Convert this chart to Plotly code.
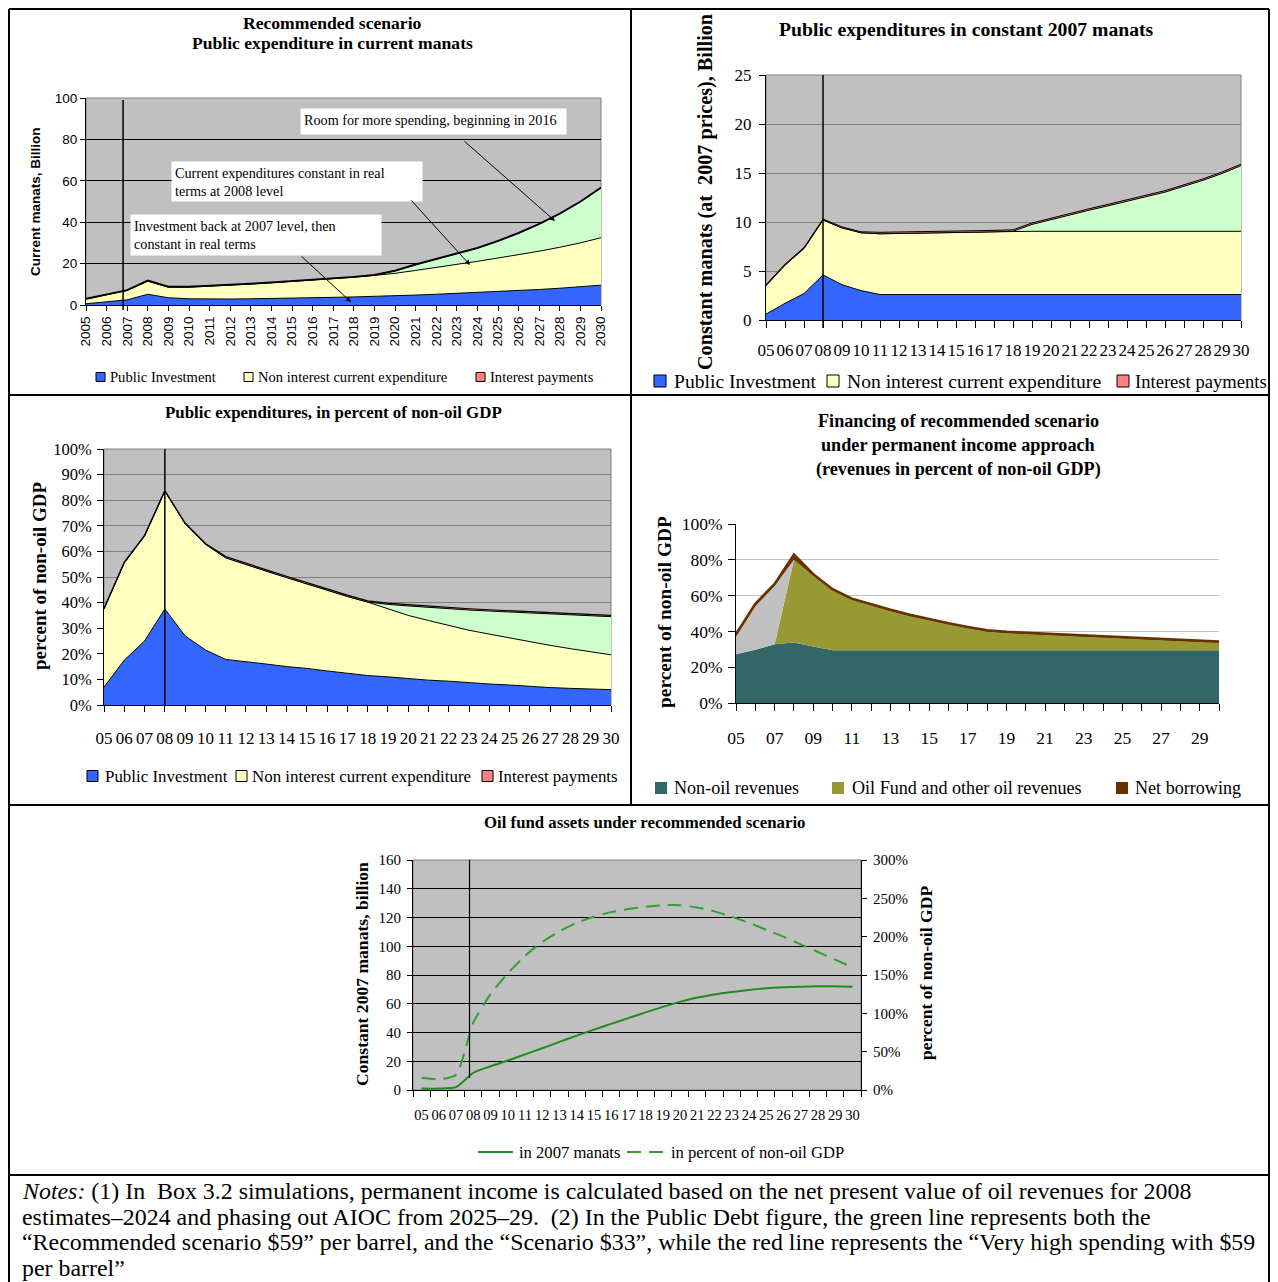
import plotly.graph_objects as go

W, H = 1278, 1282
OFF = 8  # the page body adds an 8px margin; positions below are given in reference pixels
SERIF = "Liberation Serif, Times New Roman, serif"
SANS = "Liberation Sans, Arial, sans-serif"


def fx(p):
    return (p - OFF) / W


def fy(p):
    return 1 - (p - OFF) / H


# ---------------- data ----------------
years = list(range(2005, 2031))
year_labels = [str(y) for y in years]
short_labels = [f"{y % 100:02d}" for y in years]
idx = list(range(26))

# Panel 1: current manats, billion (stacked layers)
p1_invest = [0.6, 1.5, 2.5, 5.2, 3.5, 3.0, 2.8, 2.9, 3.0, 3.1, 3.3, 3.5, 3.7, 3.9, 4.1, 4.4,
             4.8, 5.2, 5.6, 6.0, 6.5, 7.0, 7.5, 8.1, 8.8, 9.6]
p1_nonint = [2.2, 3.5, 4.5, 6.3, 5.1, 5.6, 6.2, 6.6, 7.1, 7.6, 8.0, 8.5, 9.0, 9.5, 10.2, 10.9,
             11.9, 12.9, 14.0, 15.1, 16.2, 17.3, 18.5, 19.8, 21.2, 22.9]
p1_room = [0, 0, 0, 0, 0, 0, 0, 0, 0, 0, 0, 0, 0, 0, 0, 1.0,
           2.6, 3.8, 5.0, 6.2, 8.0, 10.2, 12.9, 16.0, 19.7, 23.9]
p1_interest = [0.3, 0.3, 0.3, 0.4, 0.3, 0.3, 0.3, 0.3, 0.3, 0.3, 0.3, 0.3, 0.3, 0.3, 0.3, 0.4,
               0.4, 0.4, 0.4, 0.4, 0.4, 0.4, 0.4, 0.4, 0.4, 0.4]

# Panel 2: constant 2007 manats, billion
p2_invest = [0.6, 1.7, 2.7, 4.6, 3.6, 3.0, 2.6, 2.6, 2.6, 2.6, 2.6, 2.6, 2.6, 2.6, 2.6, 2.6,
             2.6, 2.6, 2.6, 2.6, 2.6, 2.6, 2.6, 2.6, 2.6, 2.6]
p2_nonint = [2.9, 3.9, 4.6, 5.6, 5.8, 5.9, 6.2, 6.22, 6.25, 6.28, 6.32, 6.36, 6.4, 6.45, 6.45, 6.45,
             6.45, 6.45, 6.45, 6.45, 6.45, 6.45, 6.45, 6.45, 6.45, 6.45]
p2_room = [0, 0, 0, 0, 0, 0, 0, 0, 0, 0, 0, 0, 0, 0, 0.7, 1.2,
           1.7, 2.15, 2.6, 3.05, 3.5, 4.0, 4.6, 5.2, 5.9, 6.7]
p2_interest = [0.1, 0.1, 0.1, 0.1, 0.1, 0.1, 0.15, 0.15, 0.15, 0.15, 0.15, 0.15, 0.15, 0.15, 0.15, 0.15,
               0.15, 0.15, 0.15, 0.15, 0.15, 0.15, 0.15, 0.15, 0.15, 0.15]

# Panel 3: percent of non-oil GDP
p3_invest = [7, 17.5, 25, 37.5, 27, 21.5, 17.8, 17, 16, 15, 14.3, 13.3, 12.5, 11.5, 11, 10.3,
             9.7, 9.3, 8.7, 8.2, 7.8, 7.2, 6.8, 6.5, 6.2, 6.0]
p3_nonint = [30.5, 38.0, 41.0, 46.0, 43.8, 41.3, 39.7, 37.8, 36.3, 34.8, 33.0, 31.5, 29.9, 28.7, 26.5, 24.7,
             23.3, 21.7, 20.5, 19.5, 18.4, 17.5, 16.5, 15.5, 14.6, 13.6]
p3_room = [0, 0, 0, 0, 0, 0, 0, 0, 0, 0, 0, 0, 0, 0, 1.8, 3.7,
           5.1, 6.6, 7.9, 9.0, 10.1, 11.3, 12.3, 13.3, 14.2, 14.9]
p3_interest = [0.3, 0.3, 0.3, 0.3, 0.3, 0.3, 0.5, 0.5, 0.5, 0.5, 0.5, 0.5, 0.5, 0.5, 0.5, 0.5,
               0.5, 0.5, 0.5, 0.5, 0.5, 0.5, 0.5, 0.5, 0.5, 0.5]

# Panel 4: financing, percent of non-oil GDP
p4_nonoil = [27.3, 29.7, 32.8, 33.8, 31.5, 29.5, 29.5, 29.5, 29.5, 29.5, 29.5, 29.5, 29.5, 29.5, 29.5, 29.5,
             29.5, 29.5, 29.5, 29.5, 29.5, 29.5, 29.5, 29.5, 29.5, 29.5]
p4_oil = [0, 0, 0, 46.2, 39.5, 33.3, 28.0, 24.8, 21.8, 19.0, 16.5, 14.3, 12.2, 10.3, 9.5, 9.0,
          8.4, 7.8, 7.3, 6.8, 6.3, 5.8, 5.4, 5.0, 4.5, 4.0]
p4_other = [9.7, 24.3, 32.7, 0, 0, 0, 0, 0, 0, 0, 0, 0, 0, 0, 0, 0,
            0, 0, 0, 0, 0, 0, 0, 0, 0, 0]
p4_borrow = [1.5, 1.5, 1.0, 3.0, 1.0, 0.8, 0.8, 0.8, 0.8, 0.8, 0.8, 0.8, 0.8, 0.8, 0.8, 0.8,
             0.8, 0.8, 0.8, 0.8, 0.8, 0.8, 0.8, 0.8, 0.8, 0.8]

# Panel 5: oil fund assets
p5_manats = [1, 1, 2, 12, 16.5, 20.5, 24.8, 29, 33.5, 37.8, 42, 46, 50, 54, 57.8, 61.3,
             64.3, 66.5, 68.2, 69.6, 70.7, 71.4, 71.9, 72.2, 72.2, 71.8]
p5_pct = [16, 14, 20, 88, 125, 152, 175, 193, 207, 218, 226, 232, 236, 239, 241, 241,
          238, 233, 226, 218, 209, 200, 190, 180, 170, 160]

# tick values
p1_yticks = [0, 20, 40, 60, 80, 100]
p2_yticks = [0, 5, 10, 15, 20, 25]
p3_yticks = [0, 10, 20, 30, 40, 50, 60, 70, 80, 90, 100]
p4_yticks = [0, 20, 40, 60, 80, 100]
p5_yticks = [0, 20, 40, 60, 80, 100, 120, 140, 160]
p5_y2ticks = [0, 50, 100, 150, 200, 250, 300]

# ---------------- colours ----------------
BLUE, YELLOW, GREEN, RED = "#3366FF", "#FFFFC0", "#CCFFCC", "#FF8080"
TEAL, OLIVE, LGRAY, BROWN = "#336666", "#999933", "#C0C0C0", "#663300"
PLOTGRAY = "#C0C0C0"

fig = go.Figure()


def stacked(x, series, xa, ya, group):
    for name, vals, col, lcol, w in series:
        fig.add_trace(go.Scatter(
            x=x, y=vals, name=name, stackgroup=group, mode="lines",
            line=dict(color=lcol, width=w, shape="linear"), fillcolor=col,
            xaxis=xa, yaxis=ya, showlegend=False, hoverinfo="skip"))


stacked(years, [
    ("Public Investment", p1_invest, BLUE, "black", 1),
    ("Non interest current expenditure", p1_nonint, YELLOW, "black", 1),
    ("Room for more spending", p1_room, GREEN, "black", 1),
    ("Interest payments", p1_interest, RED, "black", 1.5),
], "x", "y", "g1")

stacked(idx, [
    ("Public Investment", p2_invest, BLUE, "black", 1),
    ("Non interest current expenditure", p2_nonint, YELLOW, "black", 1),
    ("Room for more spending", p2_room, GREEN, "black", 1),
    ("Interest payments", p2_interest, RED, "black", 1),
], "x2", "y2", "g2")

stacked(idx, [
    ("Public Investment", p3_invest, BLUE, "black", 1),
    ("Non interest current expenditure", p3_nonint, YELLOW, "black", 1),
    ("Room for more spending", p3_room, GREEN, "black", 1),
    ("Interest payments", p3_interest, RED, "black", 1.2),
], "x3", "y3", "g3")

stacked(idx, [
    ("Non-oil revenues", p4_nonoil, TEAL, TEAL, 0),
    ("Oil Fund and other oil revenues", p4_oil, OLIVE, OLIVE, 0),
    ("Other", p4_other, LGRAY, LGRAY, 0),
    ("Net borrowing", p4_borrow, BROWN, BROWN, 2.5),
], "x4", "y4", "g4")

fig.add_trace(go.Scatter(x=idx, y=p5_manats, name="in 2007 manats", mode="lines",
                         line=dict(color="#1E8C1E", width=2, shape="spline", smoothing=0.6),
                         xaxis="x5", yaxis="y5", showlegend=False, hoverinfo="skip"))
fig.add_trace(go.Scatter(x=idx, y=p5_pct, name="in percent of non-oil GDP", mode="lines",
                         line=dict(color="#33A033", width=2, dash="14px,8px", shape="spline", smoothing=0.6),
                         xaxis="x5", yaxis="y6", showlegend=False, hoverinfo="skip"))

shapes = []
annotations = []

# plot backgrounds (gray) with thin border
for xa, ya in [("x", "y"), ("x2", "y2"), ("x3", "y3"), ("x5", "y5")]:
    shapes.append(dict(type="rect", xref=f"{xa} domain", yref=f"{ya} domain",
                       x0=0, x1=1, y0=0, y1=1, fillcolor=PLOTGRAY,
                       line=dict(color="#808080", width=1), layer="below"))

# vertical marker lines
shapes.append(dict(type="line", xref="x", yref="paper", x0=2006.8, x1=2006.8,
                   y0=fy(310), y1=fy(100), line=dict(color="black", width=1.5)))
shapes.append(dict(type="line", xref="x2", yref="paper", x0=3, x1=3,
                   y0=fy(328), y1=fy(75), line=dict(color="black", width=1.5)))
shapes.append(dict(type="line", xref="x3", yref="paper", x0=3, x1=3,
                   y0=fy(705), y1=fy(449), line=dict(color="black", width=1.5)))
shapes.append(dict(type="line", xref="x5", yref="paper", x0=2.78, x1=2.78,
                   y0=fy(1078), y1=fy(860), line=dict(color="black", width=1.2)))


# frame lines
RIGHT = 1269


def hline(y, x0=9, x1=RIGHT):
    shapes.append(dict(type="line", xref="paper", yref="paper", x0=fx(x0), x1=fx(x1),
                       y0=fy(y), y1=fy(y), line=dict(color="black", width=2)))


def vline(x, y0, y1):
    shapes.append(dict(type="line", xref="paper", yref="paper", x0=fx(x), x1=fx(x),
                       y0=fy(y0), y1=fy(y1), line=dict(color="black", width=2)))


hline(9)
hline(395)
hline(805)
hline(1175)
vline(9, 9, 1290)
vline(RIGHT, 9, 1290)
vline(631, 9, 805)


def text(x, y, s, size, family=SERIF, bold=False, anchor="center", angle=0, color="black"):
    annotations.append(dict(xref="paper", yref="paper", x=fx(x), y=fy(y),
                            text=f"<b>{s}</b>" if bold else s, showarrow=False,
                            xanchor=anchor, yanchor="middle", textangle=angle,
                            font=dict(family=family, size=size, color=color)))


def legend_sq(x, y, size, color, label, xt, fsize, border=True):
    shapes.append(dict(type="rect", xref="paper", yref="paper",
                       x0=fx(x), x1=fx(x + size), y0=fy(y + size / 2), y1=fy(y - size / 2),
                       fillcolor=color,
                       line=dict(color="black", width=1 if border else 0)))
    text(xt, y, label, fsize, anchor="left")


# ---------- Panel 1 texts ----------
text(332, 23, "Recommended scenario", 17.6, bold=True)
text(332, 43, "Public expenditure in current manats", 17.6, bold=True)
text(36, 202, "Current manats, Billion", 13.5, family=SANS, bold=True, angle=-90)
legend_sq(96, 377, 9, BLUE, "Public Investment", 108, 14.6)
legend_sq(244, 377, 9, YELLOW, "Non interest current expenditure", 256, 14.6)
legend_sq(476, 377, 9, RED, "Interest payments", 488, 14.6)

boxes = [
    (300, 108, 265, 25, "Room for more spending, beginning in 2016"),
    (171, 161, 250, 39, "Current expenditures constant in real<br>terms at 2008 level"),
    (130, 214, 250, 40, "Investment back at 2007 level, then<br>constant in real terms"),
]
for bx, by, bw, bh, s in boxes:
    annotations.append(dict(xref="paper", yref="paper", x=fx(bx), y=fy(by), text=s,
                            showarrow=False, xanchor="left", yanchor="top", align="left",
                            valign="top", width=bw - 6, height=bh - 6, borderpad=3,
                            bgcolor="white", font=dict(family=SERIF, size=14.2, color="black")))

arrows = [((463, 140), (555, 221)), ((410, 199), (470, 265)), ((300, 255), (351, 302))]
for (tx, ty), (hx, hy) in arrows:
    annotations.append(dict(xref="paper", yref="paper", x=fx(hx), y=fy(hy), ax=tx - hx, ay=ty - hy,
                            text="", showarrow=True, arrowhead=2, arrowsize=1, arrowwidth=1,
                            arrowcolor="black", standoff=0))

# ---------- Panel 2 texts ----------
text(966, 29, "Public expenditures in constant 2007 manats", 19.7, bold=True)
text(705, 192, "Constant manats (at  2007 prices), Billion", 20.2, bold=True, angle=-90)
legend_sq(654, 381, 12, BLUE, "Public Investment", 672, 19.6)
legend_sq(827, 381, 12, YELLOW, "Non interest current expenditure", 845, 19.6)
legend_sq(1117, 381, 12, RED, "Interest payments", 1133, 18.6)

# ---------- Panel 3 texts ----------
text(333, 412, "Public expenditures, in percent of non-oil GDP", 16.9, bold=True)
text(40, 576, "percent of non-oil GDP", 19, bold=True, angle=-90)
legend_sq(87, 776, 11, BLUE, "Public Investment", 103, 16.9)
legend_sq(236, 776, 11, YELLOW, "Non interest current expenditure", 250, 16.9)
legend_sq(482, 776, 11, RED, "Interest payments", 496, 16.9)

# ---------- Panel 4 texts ----------
text(958, 421, "Financing of recommended scenario", 18.2, bold=True)
text(958, 445, "under permanent income approach", 18.2, bold=True)
text(958, 469, "(revenues in percent of non-oil GDP)", 18.2, bold=True)
text(664, 612, "percent of non-oil GDP", 19.4, bold=True, angle=-90)
legend_sq(655, 788, 12, TEAL, "Non-oil revenues", 672, 18.1, border=False)
legend_sq(832, 788, 12, OLIVE, "Oil Fund and other oil revenues", 850, 18.1, border=False)
legend_sq(1116, 788, 12, BROWN, "Net borrowing", 1133, 18.1, border=False)

# ---------- Panel 5 texts ----------
text(645, 822, "Oil fund assets under recommended scenario", 16.8, bold=True)
text(362, 974, "Constant 2007 manats, billion", 17.6, bold=True, angle=-90)
text(926, 973, "percent of non-oil GDP", 17.6, bold=True, angle=-90)
shapes.append(dict(type="line", xref="paper", yref="paper", x0=fx(478), x1=fx(513),
                   y0=fy(1152), y1=fy(1152), line=dict(color="#1E8C1E", width=2)))
text(517, 1152, "in 2007 manats", 16.6, anchor="left")
shapes.append(dict(type="line", xref="paper", yref="paper", x0=fx(627), x1=fx(665),
                   y0=fy(1152), y1=fy(1152), line=dict(color="#33A033", width=2, dash="14px,8px")))
text(669, 1152, "in percent of non-oil GDP", 16.6, anchor="left")

# ---------- Notes ----------
notes = [
    "<i>Notes:</i> (1) In  Box 3.2 simulations, permanent income is calculated based on the net present value of oil revenues for 2008",
    "estimates–2024 and phasing out AIOC from 2025–29.  (2) In the Public Debt figure, the green line represents both the",
    "“Recommended scenario $59” per barrel, and the “Scenario $33”, while the red line represents the “Very high spending with $59",
    "per barrel”",
]
for i, line in enumerate(notes):
    text(20, 1191 + 25.5 * i, line, 23.9, anchor="left")


# ---------------- axes ----------------
def axcommon(**kw):
    d = dict(showgrid=False, zeroline=False, showline=True, linecolor="black", linewidth=1,
             ticks="outside", tickcolor="black", fixedrange=True, automargin=False)
    d.update(kw)
    return d


def pct(vals):
    return [f"{v}%" for v in vals]


tf_sans = dict(family=SANS, size=13.5, color="black")

layout = dict(
    width=W, height=H, autosize=False,
    margin=dict(l=0, r=0, t=0, b=0, pad=0, autoexpand=False),
    paper_bgcolor="white", plot_bgcolor="rgba(0,0,0,0)", showlegend=False,
    shapes=shapes, annotations=annotations,
    # Panel 1
    xaxis=axcommon(domain=[fx(86), fx(601)], anchor="y", range=[2005, 2030],
                   tickmode="array", tickvals=years, ticktext=year_labels, tickangle=-90,
                   ticklen=5, tickfont=tf_sans),
    yaxis=axcommon(domain=[fy(305), fy(98)], anchor="x", range=[0, 100],
                   tickmode="array", tickvals=p1_yticks, ticktext=[str(v) for v in p1_yticks],
                   ticklen=5, showgrid=True, gridcolor="black", gridwidth=1, tickfont=tf_sans),
    # Panel 2
    xaxis2=axcommon(domain=[fx(766), fx(1241)], anchor="y2", range=[0, 25],
                    tickmode="array", tickvals=idx, ticktext=short_labels, ticklen=7, tickangle=0,
                    ticklabelstandoff=8, tickfont=dict(family=SERIF, size=17, color="black")),
    yaxis2=axcommon(domain=[fy(320), fy(75)], anchor="x2", range=[0, 25],
                    tickmode="array", tickvals=p2_yticks, ticktext=[str(v) for v in p2_yticks],
                    ticklen=6, showgrid=True, gridcolor="#808080", gridwidth=1, ticklabelstandoff=4,
                    tickfont=dict(family=SERIF, size=17, color="black")),
    # Panel 3
    xaxis3=axcommon(domain=[fx(104), fx(611)], anchor="y3", range=[0, 25],
                    tickmode="array", tickvals=idx, ticktext=short_labels, ticklen=6, tickangle=0,
                    ticklabelstandoff=12, tickfont=dict(family=SERIF, size=17, color="black")),
    yaxis3=axcommon(domain=[fy(705), fy(449)], anchor="x3", range=[0, 100],
                    tickmode="array", tickvals=p3_yticks, ticktext=pct(p3_yticks),
                    ticklen=6, showgrid=True, gridcolor="#808080", gridwidth=1,
                    ticklabelstandoff=2, tickfont=dict(family=SERIF, size=16.5, color="black")),
    # Panel 4
    xaxis4=axcommon(domain=[fx(736), fx(1219)], anchor="y4", range=[0, 25],
                    tickmode="array", tickvals=idx, tickangle=0,
                    ticktext=[s if i % 2 == 0 else "" for i, s in enumerate(short_labels)],
                    ticklen=7, ticklabelstandoff=12,
                    tickfont=dict(family=SERIF, size=17.5, color="black")),
    yaxis4=axcommon(domain=[fy(703), fy(524)], anchor="x4", range=[0, 100],
                    tickmode="array", tickvals=p4_yticks, ticktext=pct(p4_yticks),
                    ticklen=7, showgrid=True, gridcolor="#C0C0C0", gridwidth=1,
                    ticklabelstandoff=2, tickfont=dict(family=SERIF, size=17.5, color="black")),
    # Panel 5
    xaxis5=axcommon(domain=[fx(413), fx(861)], anchor="y5", range=[-0.5, 25.5],
                    tickmode="array", tickvals=idx, ticktext=short_labels, ticks="", tickangle=0,
                    ticklabelstandoff=12,
                    minor=dict(tickmode="array", tickvals=[i - 0.5 for i in range(27)],
                               ticks="outside", ticklen=6, tickcolor="black"),
                    tickfont=dict(family=SERIF, size=14.5, color="black")),
    yaxis5=axcommon(domain=[fy(1090), fy(860)], anchor="x5", range=[0, 160],
                    tickmode="array", tickvals=p5_yticks, ticktext=[str(v) for v in p5_yticks],
                    ticklen=5, showgrid=True, gridcolor="black", gridwidth=1,
                    ticklabelstandoff=3, tickfont=dict(family=SERIF, size=15, color="black")),
    yaxis6=axcommon(overlaying="y5", side="right", anchor="x5", range=[0, 300],
                    tickmode="array", tickvals=p5_y2ticks, ticktext=pct(p5_y2ticks),
                    ticklen=5, ticklabelstandoff=3,
                    tickfont=dict(family=SERIF, size=15, color="black")),
)
fig.update_layout(**layout)
fig.write_html("out.html")
